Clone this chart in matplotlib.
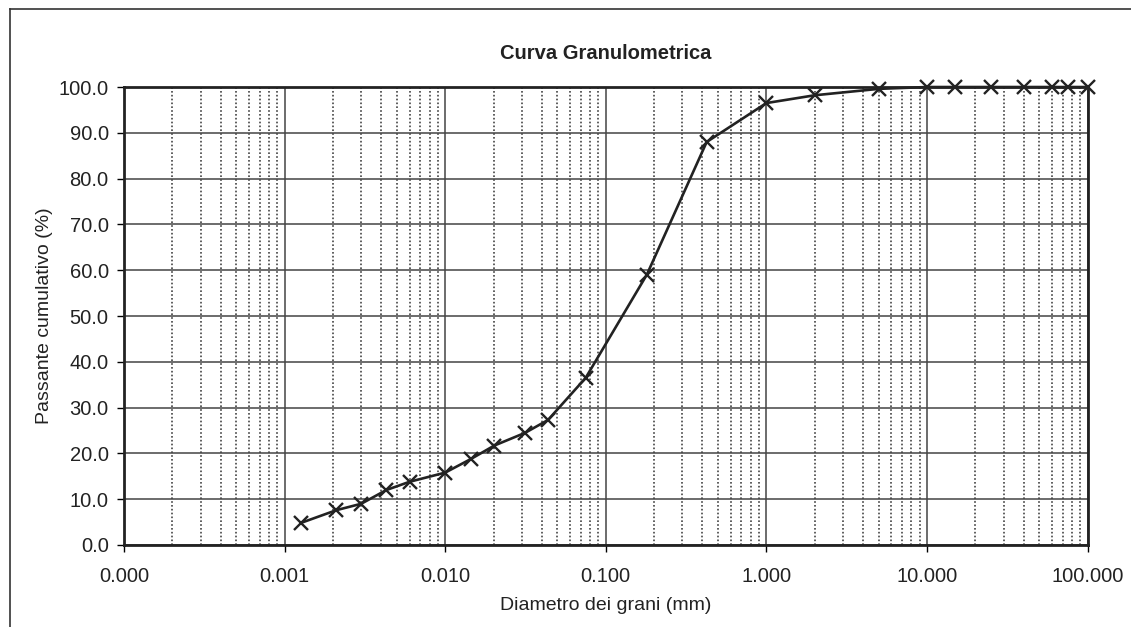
import numpy as np
import matplotlib
matplotlib.use("Agg")
from matplotlib import pyplot as plt
from matplotlib.ticker import FixedLocator, LogLocator, FuncFormatter, NullFormatter
from matplotlib.lines import Line2D

# === Dati della curva granulometrica ===
diametri = [0.00126, 0.0021, 0.0030, 0.0043, 0.0060, 0.0100, 0.0145, 0.0202,
            0.0315, 0.0437, 0.075, 0.18, 0.425, 1.0, 2.0, 5.0,
            10.0, 15.0, 25.0, 40.0, 60.0, 75.0, 100.0]
passante = [4.8, 7.6, 9.0, 12.0, 13.8, 15.8, 18.8, 21.7,
            24.5, 27.3, 36.5, 59.0, 88.0, 96.5, 98.2, 99.6,
            100.0, 100.0, 100.0, 100.0, 100.0, 100.0, 100.0]

x_ticks = [0.0001, 0.001, 0.01, 0.1, 1.0, 10.0, 100.0]
y_ticks = [0, 10, 20, 30, 40, 50, 60, 70, 80, 90, 100]

plt.rcParams['font.family'] = ['Liberation Sans', 'DejaVu Sans']

fig = plt.figure(figsize=(11.31, 6.27), dpi=100)
ax = fig.add_axes([0.1096, 0.1308, 0.852, 0.7304])

ax.plot(diametri, passante, color='#222222', linewidth=1.9,
        marker='x', markersize=10.5, markeredgewidth=1.7, zorder=5, clip_on=False)

ax.set_xscale('log')
ax.set_xlim(0.0001, 100)
ax.set_ylim(0, 100)

ax.xaxis.set_major_locator(FixedLocator(x_ticks))
ax.xaxis.set_major_formatter(FuncFormatter(lambda v, p: '%.3f' % v))
ax.xaxis.set_minor_locator(LogLocator(base=10, subs=np.arange(2, 10), numticks=20))
ax.xaxis.set_minor_formatter(NullFormatter())
ax.yaxis.set_major_locator(FixedLocator(y_ticks))
ax.yaxis.set_major_formatter(FuncFormatter(lambda v, p: '%.1f' % v))

# griglia: verticali principali continue, secondarie puntinate
ax.grid(which='major', axis='both', color='#444444', linewidth=1.1, linestyle='-')
ax.grid(which='minor', axis='x', color='#444444', linewidth=1.2, linestyle=(0, (1.0, 1.3)))
ax.set_axisbelow(True)

for s in ax.spines.values():
    s.set_linewidth(2.0)
    s.set_color('#222222')

ax.tick_params(axis='x', which='major', direction='out', length=5, width=1, pad=11,
               labelsize=14.5, labelcolor='#222222')
ax.tick_params(axis='x', which='minor', length=0)
ax.tick_params(axis='y', which='major', direction='out', length=5, width=1, pad=6,
               labelsize=14.5, labelcolor='#222222')

ax.set_title('Curva Granulometrica', fontsize=14.5, fontweight='bold', pad=20, color='#222222')
ax.set_xlabel('Diametro dei grani (mm)', fontsize=14, labelpad=8, color='#222222')
ax.set_ylabel('Passante cumulativo (%)', fontsize=14, labelpad=4, color='#222222')

# bordo dell'area del grafico
fig.add_artist(Line2D([0.009, 0.009], [0.0, 0.986], color='#333333', linewidth=1.2))
fig.add_artist(Line2D([0.009, 1.0], [0.986, 0.986], color='#333333', linewidth=1.2))

fig.savefig('out.png', dpi=100)
